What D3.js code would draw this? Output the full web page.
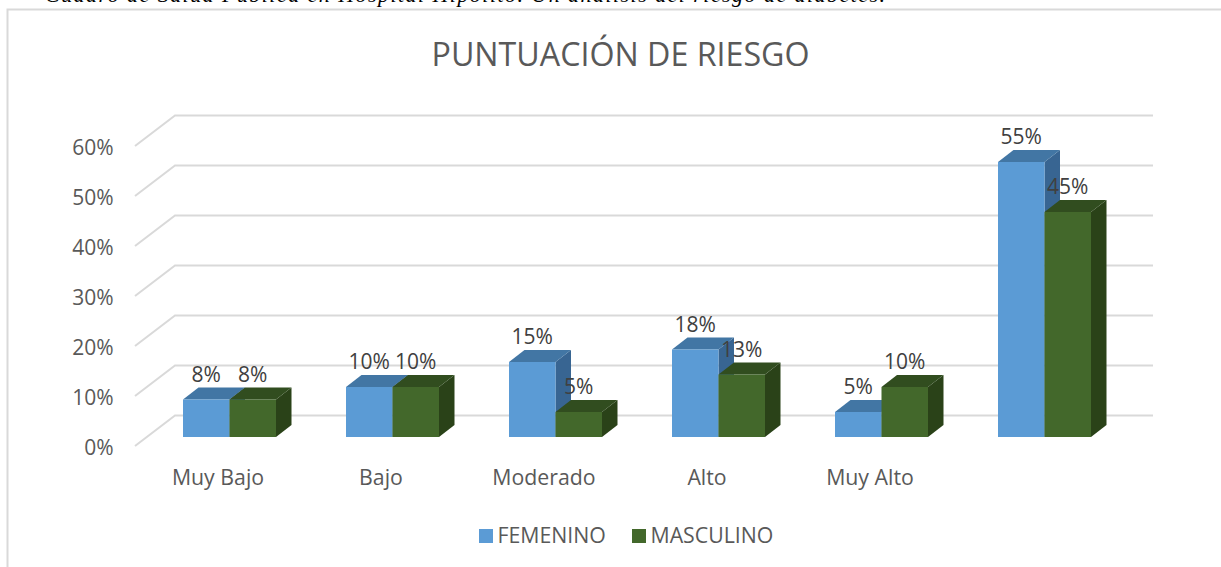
<!DOCTYPE html>
<html><head><meta charset="utf-8">
<script src="https://cdnjs.cloudflare.com/ajax/libs/d3/7.8.5/d3.min.js"></script>
<style>html,body{margin:0;padding:0;background:#fff;overflow:hidden}svg{display:block}</style>
</head><body><svg id="c" width="1221" height="567"></svg>
<script>
const categories = ["Muy Bajo","Bajo","Moderado","Alto","Muy Alto",""];
const femenino = [7.5,10,15,17.5,5,55];
const masculino = [7.5,10,5,12.5,10,45];
const ticks = [0,10,20,30,40,50,60];
const seriesNames = ["FEMENINO","MASCULINO"];
const topCaption = "Cuadro de Salud Pública en Hospital Hipólito. Un análisis del riesgo de diabetes.";
const titleText = "PUNTUACIÓN DE RIESGO";

const svg = d3.select("#c");
const W=1221,H=567;
const sans = "'Open Sans', sans-serif";
const colors = {
  FEMENINO:{front:"#5b9bd5",top:"#4276a4",side:"#386592"},
  MASCULINO:{front:"#43682b",top:"#314d1f",side:"#2a4218"}
};
svg.append("path").attr("d",`M7.5,567V9.5H${W}`).attr("fill","none").attr("stroke","#d9d9d9").attr("stroke-width",2);
svg.append("text").attr("x",45).attr("y",2).attr("font-family","Liberation Serif").attr("font-style","italic")
  .attr("font-size",22).attr("textLength",840).attr("lengthAdjust","spacing").attr("fill","#000").text(topCaption);
svg.append("text").attr("x",620.5).attr("y",65.5).attr("text-anchor","middle").attr("font-family",sans)
  .attr("font-size",32.2).attr("fill","#595959").text(titleText);

const y = d3.scaleLinear().domain([0,60]).range([437,137]);
const gy = d3.scaleLinear().domain([0,60]).range([415.5,115.5]);
const x0 = d3.scaleBand().domain(d3.range(categories.length)).range([148,1126]);
const x1 = d3.scaleBand().domain(seriesNames).range([35,128]);
const depthX=15.5, depthY=12;

const gridG = svg.append("g");
gridG.selectAll("path").data(ticks).join("path")
  .attr("d",v=>`M135,${gy(v)+30.5}L175,${gy(v)}H1153`)
  .attr("fill","none").attr("stroke","#d9d9d9").attr("stroke-width",2);
svg.append("g").selectAll("text").data(ticks).join("text")
  .attr("x",113.5).attr("y",v=>gy(v)+39).attr("text-anchor","end")
  .attr("font-family",sans).attr("font-size",21).attr("fill","#595959").text(v=>v+"%");
svg.append("g").selectAll("text").data(categories).join("text")
  .attr("x",(d,i)=>x0(i)+x0.bandwidth()/2-11.5).attr("y",485).attr("text-anchor","middle")
  .attr("font-family",sans).attr("font-size",21.3).attr("fill","#595959").text(d=>d);

const data = seriesNames.map((s,k)=>({s,vals:k===0?femenino:masculino}));
const barW = x1.bandwidth();
const marks = svg.append("g");
categories.forEach((c,i)=>{
  data.forEach(({s,vals})=>{
    const xl=x0(i)+x1(s), xr=xl+barW, t=y(vals[i]), b=y(0), col=colors[s];
    const g=marks.append("g");
    g.append("path").attr("d",`M${xr},${t}l${depthX},${-depthY}V${b-depthY}L${xr},${b}Z`).attr("fill",col.side);
    g.append("path").attr("d",`M${xl},${t}l${depthX},${-depthY}H${xr+depthX}L${xr},${t}Z`).attr("fill",col.top);
    g.append("rect").attr("x",xl).attr("y",t).attr("width",barW).attr("height",b-t).attr("fill",col.front);
  });
});
const lab = svg.append("g");
categories.forEach((c,i)=>{
  data.forEach(({s,vals})=>{
    lab.append("text").attr("x",x0(i)+x1(s)+barW/2).attr("y",y(vals[i])-18).attr("text-anchor","middle")
      .attr("font-family",sans).attr("font-size",21).attr("fill","#404040").text(Math.round(vals[i])+"%");
  });
});
const legendX=[479,632];
const lg = svg.append("g");
seriesNames.forEach((s,k)=>{
  lg.append("rect").attr("x",legendX[k]).attr("y",529).attr("width",14).attr("height",14).attr("fill",colors[s].front);
  lg.append("text").attr("x",legendX[k]+18.5).attr("y",543).attr("font-family",sans).attr("font-size",21.3).attr("fill","#595959").text(s);
});
</script></body></html>
